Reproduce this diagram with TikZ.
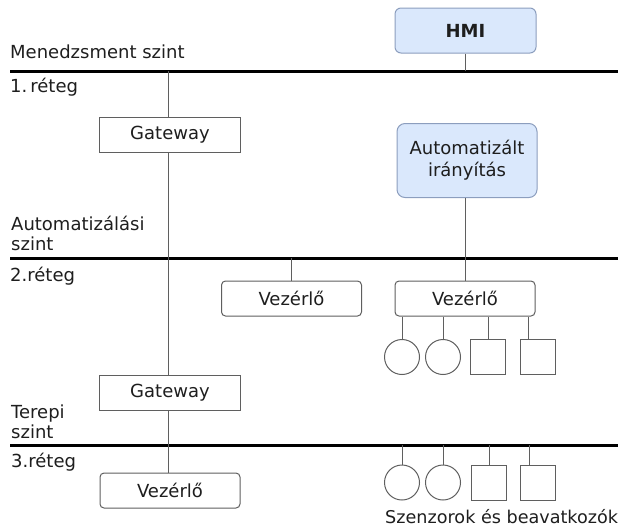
\documentclass[tikz,border=0pt]{standalone}
\usepackage{fontspec}
\setmainfont{DejaVu Sans}
\usepackage{xcolor}
\definecolor{boxgray}{RGB}{95,95,95}
\definecolor{inkgray}{RGB}{30,30,30}
\definecolor{hmiblue}{RGB}{218,232,252}
\definecolor{hmiedge}{RGB}{140,158,190}
\usepackage{tikz}
\tikzstyle{gwbox} = [rectangle, draw=boxgray, fill=white, line width=1pt,
  minimum width=141pt, minimum height=35pt, inner sep=0pt]
\tikzstyle{ctrlbox} = [gwbox, rounded corners=4pt, minimum width=140pt]
\tikzstyle{hmibox} = [rectangle, rounded corners=6pt, draw=hmiedge, fill=hmiblue,
  line width=1pt, inner sep=0pt]
\tikzstyle{sensor} = [circle, draw=boxgray, line width=1pt, minimum size=35pt, inner sep=0pt]
\tikzstyle{actor} = [rectangle, draw=boxgray, line width=1pt, minimum size=35pt, inner sep=0pt]
\tikzstyle{level} = [anchor=west, inner sep=0pt, align=left, text=inkgray]
\tikzstyle{bus} = [line width=3pt, black]
\tikzstyle{link} = [line width=1pt, boxgray]

\begin{document}
\begin{tikzpicture}[x=1pt, y=-1pt, font=\fontsize{18}{20}\selectfont, text=inkgray]
  \useasboundingbox (0,0) rectangle (628,528);
  \coordinate (b1w) at (10,71);   \coordinate (b1e) at (618,71);
  \coordinate (b2w) at (10,258);  \coordinate (b2e) at (618,258);
  \coordinate (b3w) at (10,445);  \coordinate (b3e) at (618,445);
  \coordinate (trunk) at (168,0);

  \node[level] (l1) at (10,52) {Menedzsment szint};
  \node[level] (r1) at (10,87) {1.\,réteg};
  \node[level] (l2) at (11,233) {Automatizálási\\szint};
  \node[level] (r2) at (10,276) {2.réteg};
  \node[level] (l3) at (11,422) {Terepi\\szint};
  \node[level] (r3) at (11,462) {3.réteg};

  \node[hmibox, minimum width=141pt, minimum height=45pt] (hmi) at (465.5,30.5) {\bfseries HMI};
  \node[hmibox, rounded corners=8pt, minimum width=140pt, minimum height=74pt,
    align=center, font=\fontsize{18}{22}\selectfont] (auto) at (467,160.5) {Automatizált\\irányítás};

  \node[gwbox] (gw1) at (170,134.5) {Gateway};
  \node[gwbox] (gw2) at (170,392.5) {Gateway};
  \node[ctrlbox] (v1) at (291.5,298.5) {Vezérlő};
  \node[ctrlbox] (v2) at (465,298.5) {Vezérlő};
  \node[ctrlbox] (v3) at (170,490.5) {Vezérlő};

  \node[sensor] (s1) at (402,357) {};
  \node[sensor] (s2) at (443,357) {};
  \node[actor] (a1) at (488,357) {};
  \node[actor] (a2) at (537.5,357) {};
  \node[sensor] (s3) at (402,482.5) {};
  \node[sensor] (s4) at (443,482.5) {};
  \node[actor] (a3) at (489,483) {};
  \node[actor] (a4) at (538,483) {};
  \coordinate (k2) at (528,339.5);
  \coordinate (k4) at (529,465.5);
  \node[anchor=north west, inner sep=0pt, font=\fontsize{17.6}{20}\selectfont] (lab) at (385,509) {Szenzorok és beavatkozók};

  \draw[bus] (b1w) -- (b1e);
  \draw[bus] (b2w) -- (b2e);
  \draw[bus] (b3w) -- (b3e);

  \draw[link] (hmi.south) -- (hmi.south |- b1w);
  \draw[link] (b1w -| trunk) -- (gw1.north -| trunk);
  \draw[link] (gw1.south -| trunk) -- (gw2.north -| trunk);
  \draw[link] (gw2.south -| trunk) -- (v3.north -| trunk);
  \draw[link] (auto.south -| v2.north) -- (v2.north);
  \draw[link] (v1.north |- b2w) -- (v1.north);
  \draw[link] (v2.south -| s1.north) -- (s1.north);
  \draw[link] (v2.south -| s2.north) -- (s2.north);
  \draw[link] (v2.south -| a1.north) -- (a1.north);
  \draw[link] (v2.south -| k2) -- (k2);
  \draw[link] (b3w -| s3.north) -- (s3.north);
  \draw[link] (b3w -| s4.north) -- (s4.north);
  \draw[link] (b3w -| a3.north) -- (a3.north);
  \draw[link] (b3w -| k4) -- (k4);
\end{tikzpicture}
\end{document}
